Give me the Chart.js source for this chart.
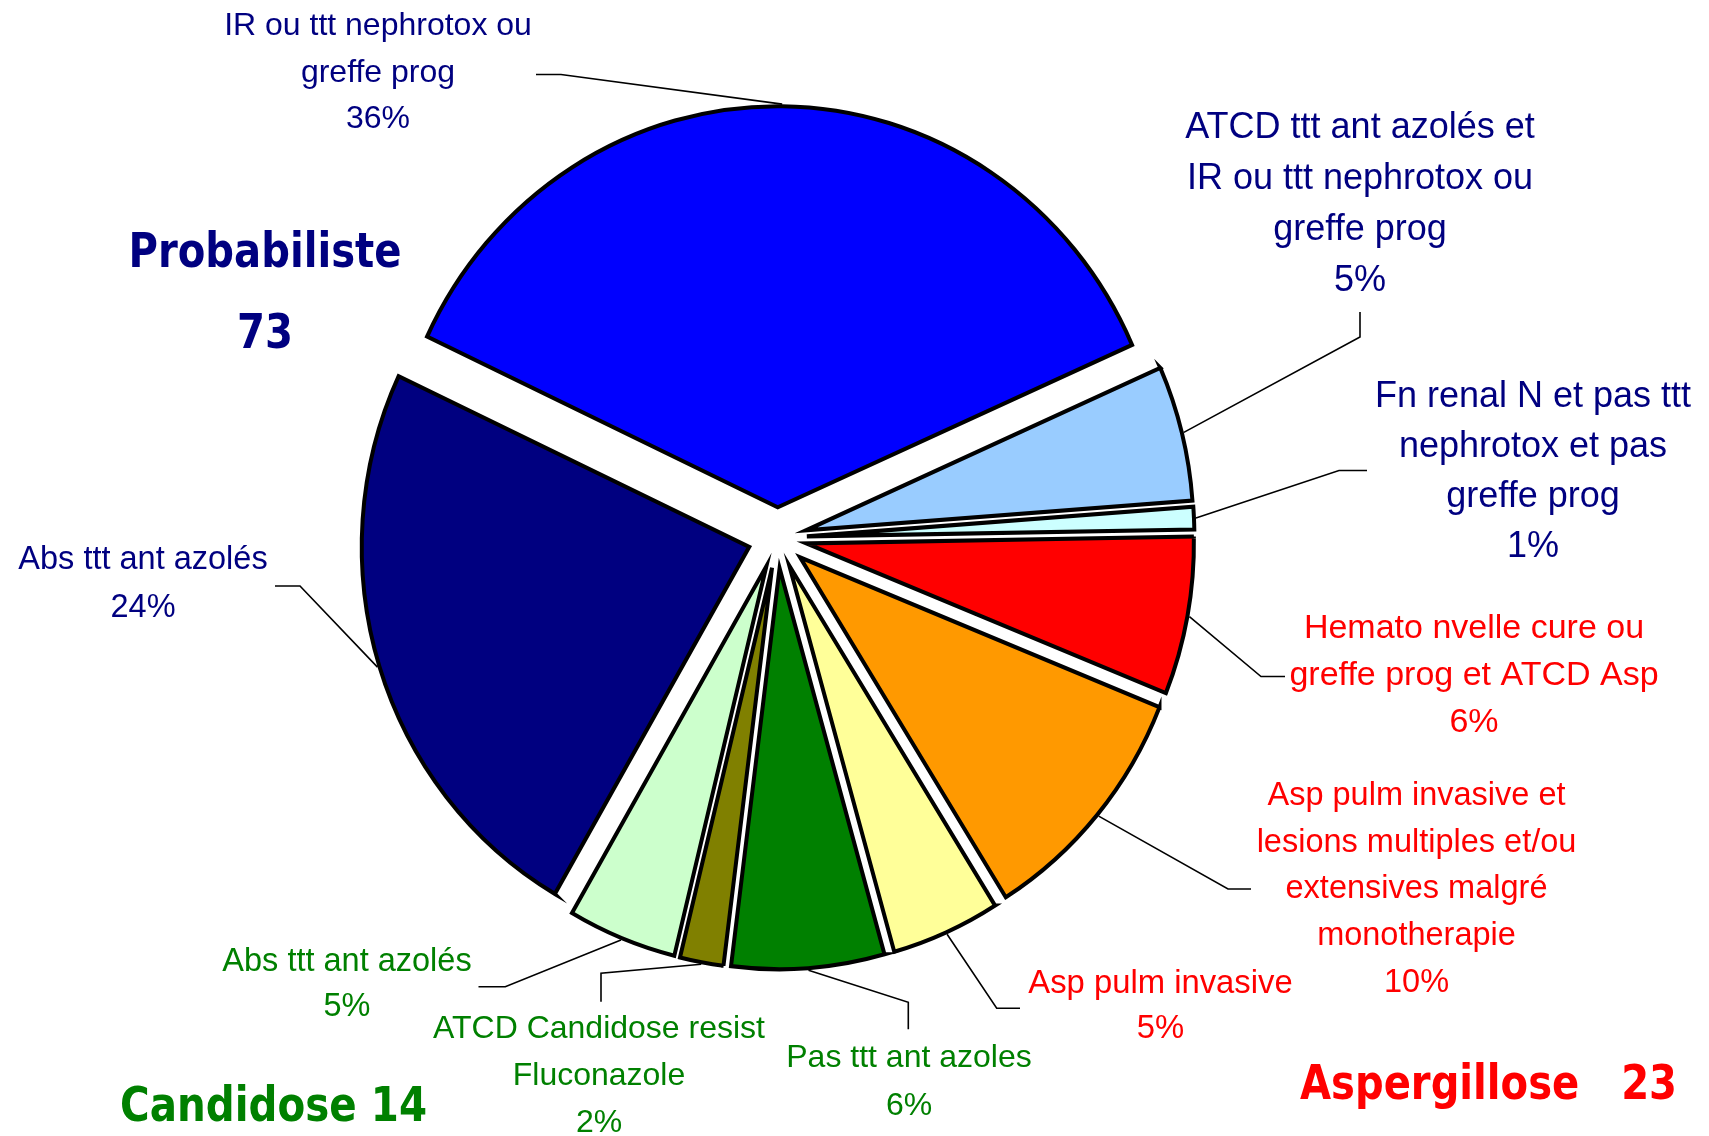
<!DOCTYPE html>
<html>
<head>
<meta charset="utf-8">
<script src="https://cdn.jsdelivr.net/npm/chart.js@4.4.1/dist/chart.umd.min.js"></script>
<style>
  html, body { margin: 0; padding: 0; background: #ffffff; }
  #wrap { position: relative; width: 1709px; height: 1136px; }
</style>
</head>
<body>
<div id="wrap"><canvas id="c" width="1709" height="1136"></canvas></div>
<script>
// ---------------- DATA ----------------
const categories = [
  ["IR ou ttt nephrotox ou", "greffe prog"],
  ["ATCD ttt ant azolés et", "IR ou ttt nephrotox ou", "greffe prog"],
  ["Fn renal N et pas ttt", "nephrotox et pas", "greffe prog"],
  ["Hemato nvelle cure ou", "greffe prog et ATCD Asp"],
  ["Asp pulm invasive et", "lesions multiples et/ou", "extensives malgré", "monotherapie"],
  ["Asp pulm invasive"],
  ["Pas ttt ant azoles"],
  ["ATCD Candidose resist", "Fluconazole"],
  ["Abs ttt ant azolés"],
  ["Abs ttt ant azolés"]
];
const values = [40, 6, 1, 7, 11, 5, 7, 2, 5, 26];
const groupNames = ["Probabiliste", "Aspergillose", "Candidose"];
const groupOfSlice = [0, 0, 0, 1, 1, 1, 2, 2, 2, 0];

// ---------------- STYLES ----------------
const sliceColors = ["#0000FF", "#99CCFF", "#CCFFFF", "#FF0000", "#FF9900",
                     "#FFFF99", "#008000", "#808000", "#CCFFCC", "#000080"];
const groupColors = ["#000080", "#FF0000", "#008000"];
const regularFont = '"Liberation Sans", Arial, sans-serif';
const boldFont = '"DejaVu Sans", Verdana, sans-serif';
const sliceBorder = 4;

// ---------------- LAYOUT ----------------
const explode = 29.5;      // slice explosion distance
const yStretch = 1.035;    // slight vertical stretch of the pie
const labelLayout = [
  { x: 378,    y: 35,    lh: 46.7, size: 32 },
  { x: 1360,   y: 138.3, lh: 50.8, size: 36 },
  { x: 1533,   y: 406.7, lh: 50,   size: 36 },
  { x: 1474,   y: 638.3, lh: 46.7, size: 34 },
  { x: 1416.5, y: 805,   lh: 46.7, size: 32.5 },
  { x: 1160.5, y: 993.3, lh: 45,   size: 32.8 },
  { x: 909,    y: 1066.7,lh: 48.3, size: 32 },
  { x: 599,    y: 1038.3,lh: 46.7, size: 32 },
  { x: 347,    y: 970.7, lh: 45.3, size: 32.5 },
  { x: 143,    y: 569.3, lh: 48,   size: 32.5 }
];
const leaderLayout = [
  [[561, 74.5], [536, 74.5]],
  [[1360, 337], [1360, 312]],
  [[1339, 470.5], [1367, 470.5]],
  [[1261, 676.5], [1285, 676.5]],
  [[1228, 889], [1251, 889]],
  [[996.7, 1008.3], [1020, 1008.3]],
  [[908.3, 1002.3], [908.3, 1029.3]],
  [[601, 973.3], [601, 1001.7]],
  [[505.3, 986.7], [478.5, 986.7]],
  [[300, 586], [275, 586]]
];
const groupLayout = [
  { align: "center", x: 265, ys: [266.7, 348.3], maxW: [273, 56], size: 48, sep: null },
  { align: "left", x: 1300, ys: [1099.3], maxW: [377], size: 48, sep: "   " },
  { align: "left", x: 120, ys: [1121], maxW: [307], size: 48, sep: " " }
];

const total = values.reduce((a, b) => a + b, 0);
const groupTotals = groupNames.map((_, g) =>
  values.reduce((s, v, i) => s + (groupOfSlice[i] === g ? v : 0), 0));

const explodedPie = {
  id: "explodedPie",
  beforeDatasetDraw(chart, args) {
    const ctx = chart.ctx;
    const arcs = args.meta.data;
    if (!arcs.length) return false;
    const cx = arcs[0].x, cy = arcs[0].y;
    ctx.save();
    ctx.translate(cx, cy);
    ctx.scale(1, yStretch);
    ctx.translate(-cx, -cy);
    arcs.forEach(arc => {
      const m = (arc.startAngle + arc.endAngle) / 2;
      ctx.save();
      ctx.translate(Math.cos(m) * explode, Math.sin(m) * explode);
      arc.draw(ctx);
      ctx.restore();
    });
    ctx.restore();
    return false;
  },
  afterDatasetsDraw(chart) {
    const ctx = chart.ctx;
    const arcs = chart.getDatasetMeta(0).data;
    // leader lines
    ctx.save();
    ctx.strokeStyle = "#000000";
    ctx.lineWidth = 1.6;
    ctx.lineJoin = "miter";
    arcs.forEach((arc, i) => {
      const p = arc.getProps(["x", "y", "startAngle", "endAngle", "outerRadius"], true);
      const m = (p.startAngle + p.endAngle) / 2;
      const r = explode + p.outerRadius + sliceBorder / 2;
      const sx = p.x + Math.cos(m) * r;
      const sy = p.y + Math.sin(m) * r * yStretch;
      const pts = leaderLayout[i];
      ctx.beginPath();
      ctx.moveTo(sx, sy);
      pts.forEach(q => ctx.lineTo(q[0], q[1]));
      ctx.stroke();
    });
    ctx.restore();

    // slice labels
    ctx.save();
    ctx.textAlign = "center";
    ctx.textBaseline = "alphabetic";
    values.forEach((v, i) => {
      const L = labelLayout[i];
      const lines = categories[i].concat([Math.round(v / total * 100) + "%"]);
      ctx.font = L.size + "px " + regularFont;
      ctx.fillStyle = groupColors[groupOfSlice[i]];
      lines.forEach((t, k) => ctx.fillText(t, L.x, L.y + k * L.lh));
    });
    ctx.restore();

    // group titles
    ctx.save();
    ctx.textBaseline = "alphabetic";
    groupNames.forEach((name, g) => {
      const G = groupLayout[g];
      ctx.font = "bold " + G.size + "px " + boldFont;
      ctx.fillStyle = groupColors[g];
      ctx.textAlign = G.align;
      const texts = G.sep === null ? [name, String(groupTotals[g])] : [name + G.sep + groupTotals[g]];
      texts.forEach((t, k) => ctx.fillText(t, G.x, G.ys[k], G.maxW[k]));
    });
    ctx.restore();
  }
};

new Chart(document.getElementById("c"), {
  type: "pie",
  data: {
    labels: categories.map(l => l.join(" ")),
    datasets: [{
      data: values,
      backgroundColor: sliceColors,
      borderColor: "#000000",
      borderWidth: sliceBorder,
      borderJoinStyle: "miter"
    }]
  },
  options: {
    responsive: false,
    animation: false,
    rotation: -64.8,
    radius: 387.5,
    layout: { padding: { left: 0, right: 154.2, top: 0, bottom: 60.4 } },
    plugins: { legend: { display: false }, tooltip: { enabled: false } },
    events: []
  },
  plugins: [explodedPie]
});
</script>
</body>
</html>
